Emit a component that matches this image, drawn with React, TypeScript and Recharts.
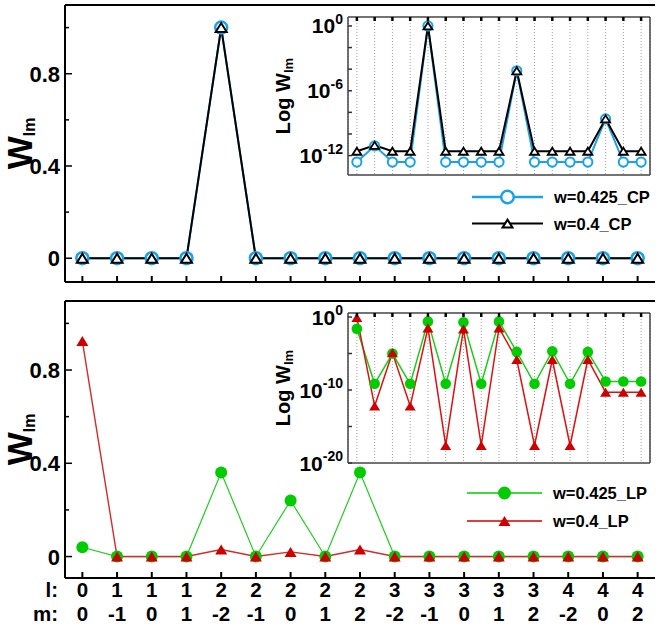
import React from "react";
import { LineChart, Line, XAxis, YAxis, CartesianGrid, Legend } from "recharts";

const FONT = "'Liberation Sans', Arial, Helvetica, sans-serif";

// quantum numbers shown under the bottom panel
const lLabels = ["0", "1", "1", "1", "2", "2", "2", "2", "2", "3", "3", "3", "3", "3", "4", "4", "4"];
const mLabels = ["0", "-1", "0", "1", "-2", "-1", "0", "1", "2", "-2", "-1", "0", "1", "2", "-2", "0", "2"];

// top panel (CP), linear W_lm
const cp425 = [0, 0, 0, 0, 1, 0, 0, 0, 0, 0, 0, 0, 0, 0, 0, 0, 0];
const cp04 = [0, 0, 0, 0, 1, 0, 0, 0, 0, 0, 0, 0, 0, 0, 0, 0, 0];
// top inset, log10 W_lm
const cp425Log = [-12.6, -11.1, -12.6, -12.6, 0, -12.6, -12.6, -12.6, -12.6, -4.15, -12.6, -12.6, -12.6, -12.6, -8.6, -12.6, -12.6];
const cp04Log = [-11.6, -11.05, -11.6, -11.6, 0, -11.6, -11.6, -11.6, -11.6, -4.15, -11.6, -11.6, -11.6, -11.6, -8.6, -11.6, -11.6];

// bottom panel (LP), linear W_lm
const lp425 = [0.04, 0, 0, 0, 0.36, 0, 0.24, 0, 0.36, 0, 0, 0, 0, 0, 0, 0, 0];
const lp04 = [0.924, 0, 0, 0, 0.03, 0, 0.02, 0, 0.03, 0, 0, 0, 0, 0, 0, 0, 0];
// bottom inset, log10 W_lm
const lp425Log = [-1.6, -9.15, -5.0, -9.15, -0.6, -9.15, -0.73, -9.15, -0.6, -4.78, -9.15, -4.69, -9.15, -4.78, -8.83, -8.83, -8.83];
const lp04Log = [-0.05, -12.2, -4.9, -12.2, -1.5, -17.6, -1.64, -17.6, -1.5, -5.82, -17.6, -5.82, -17.6, -5.82, -10.3, -10.3, -10.3];

// axis ticks
const mainTicks = [0, 0.2, 0.4, 0.6, 0.8, 1.0];
const mainTickLabels = [0, 0.4, 0.8];
const cpLogTicks = [0, -2, -4, -6, -8, -10, -12];
const cpLogLabels = [0, -6, -12];
const lpLogTicks = [0, -5, -10, -15, -20];
const lpLogLabels = [0, -10, -20];

const idx = lLabels.map((_, i) => i);
const cpData = idx.map((i) => ({ i, a: cp425[i], b: cp04[i] }));
const cpLogData = idx.map((i) => ({ i, a: cp425Log[i], b: cp04Log[i] }));
const lpData = idx.map((i) => ({ i, a: lp425[i], b: lp04[i] }));
const lpLogData = idx.map((i) => ({ i, a: lp425Log[i], b: lp04Log[i] }));

const BLUE = "#1aa2e8";
const GREEN = "#00cc00";
const RED = "#cc0000";

const triPts = (cx: number, cy: number, w: number, h: number) =>
  `${cx - w / 2},${cy + h / 2} ${cx + w / 2},${cy + h / 2} ${cx},${cy - h / 2}`;

const circleDot = (r: number, stroke: string, fill: string, sw: number) => (p: any) =>
  p.cx == null ? (
    <g key={`c${p.index}`} />
  ) : (
    <circle key={`c${p.index}`} cx={p.cx} cy={p.cy} r={r} stroke={stroke} strokeWidth={sw} fill={fill} />
  );

const triDot = (w: number, h: number, stroke: string, fill: string, sw: number) => (p: any) =>
  p.cx == null ? (
    <g key={`t${p.index}`} />
  ) : (
    <polygon key={`t${p.index}`} points={triPts(p.cx, p.cy, w, h)} stroke={stroke} strokeWidth={sw} fill={fill} />
  );

// ---- ticks ----
const MainYTick = (p: any) => {
  const v = p.payload.value;
  const major = mainTickLabels.includes(v);
  return (
    <g>
      <line x1={p.x} x2={p.x + (major ? 7 : 4)} y1={p.y} y2={p.y} stroke="#000" strokeWidth={1.5} />
      {major && (
        <text x={p.x - 5} y={p.y + 8} textAnchor="end" fontSize={22} fontWeight="bold" fontFamily={FONT} fill="#000">
          {v}
        </text>
      )}
    </g>
  );
};

const MainXTick = (p: any) => (
  <g>
    <line x1={p.x} x2={p.x} y1={p.y} y2={p.y - 6} stroke="#000" strokeWidth={2} />
    {p.withLabels && (
      <text textAnchor="middle" fontSize={20.5} fontWeight="bold" fontFamily={FONT} fill="#000">
        <tspan x={p.x} y={p.y + 19}>{lLabels[p.payload.value]}</tspan>
        <tspan x={p.x} y={p.y + 43}>{mLabels[p.payload.value]}</tspan>
      </text>
    )}
  </g>
);

const InsetTopTick = (p: any) => (
  <line x1={p.x} x2={p.x} y1={p.y} y2={p.y + 4} stroke="#000" strokeWidth={2.5} />
);

const EmptyTick = () => <g />;

const logTick = (labels: number[]) => (p: any) => {
  const v = p.payload.value;
  return (
    <g>
      <line x1={p.x} x2={p.x + 4} y1={p.y} y2={p.y} stroke="#333" strokeWidth={1.5} />
      {labels.includes(v) && (
        <text x={p.x - 5} y={p.y + 7.5} textAnchor="end" fontSize={21} fontWeight="bold" fontFamily={FONT} fill="#000">
          10
          <tspan dy={-9.5} fontSize={14}>
            {v}
          </tspan>
        </text>
      )}
    </g>
  );
};

// ---- axis titles ----
const WTitle = (props: any) => {
  const vb = props.viewBox;
  const cx = vb.x + 32;
  const cy = vb.y + vb.height / 2;
  return (
    <text
      x={cx}
      y={cy}
      transform={`rotate(-90, ${cx}, ${cy})`}
      textAnchor="middle"
      fontSize={35}
      fontWeight="bold"
      fontFamily={FONT}
      fill="#000"
    >
      W
      <tspan fontSize={16} dy={3}>
        lm
      </tspan>
    </text>
  );
};

const LogTitle = (props: any) => {
  const vb = props.viewBox;
  const cx = vb.x + 30;
  const cy = vb.y + vb.height / 2;
  return (
    <text
      x={cx}
      y={cy}
      transform={`rotate(-90, ${cx}, ${cy})`}
      textAnchor="middle"
      fontSize={20}
      fontWeight="bold"
      fontFamily={FONT}
      fill="#000"
    >
      Log W
      <tspan fontSize={13} dy={3}>
        lm
      </tspan>
    </text>
  );
};

const LMTitle = (props: any) => {
  const vb = props.viewBox;
  return (
    <text textAnchor="end" fontSize={20.5} fontWeight="bold" fontFamily={FONT} fill="#000">
      <tspan x={vb.x - 7} y={vb.y + 19}>l:</tspan>
      <tspan x={vb.x - 7} y={vb.y + 43}>m:</tspan>
    </text>
  );
};

// ---- legend ----
type LegendItem = { name: string; color: string; lineWidth: number; marker: "circle" | "tri"; filled: boolean };

const cpLegend: LegendItem[] = [
  { name: "w=0.425_CP", color: BLUE, lineWidth: 2.5, marker: "circle", filled: false },
  { name: "w=0.4_CP", color: "#000", lineWidth: 2, marker: "tri", filled: false },
];
const lpLegend: LegendItem[] = [
  { name: "w=0.425_LP", color: GREEN, lineWidth: 1.5, marker: "circle", filled: true },
  { name: "w=0.4_LP", color: RED, lineWidth: 1.5, marker: "tri", filled: true },
];

const LegendBox = ({ items, rowGap, lineLen }: { items: LegendItem[]; rowGap: number; lineLen: number }) => (
  <svg width={190} height={60} style={{ display: "block" }}>
    {items.map((it, k) => {
      const cy = 14 + k * rowGap;
      const mx = 7 + lineLen / 2;
      return (
        <g key={it.name}>
          <line x1={7} x2={7 + lineLen} y1={cy} y2={cy} stroke={it.color} strokeWidth={it.lineWidth} />
          {it.marker === "circle" ? (
            <circle cx={mx} cy={cy} r={it.filled ? 6.5 : 6.3} fill={it.filled ? it.color : "#fff"} stroke={it.color} strokeWidth={it.filled ? 0 : 2.5} />
          ) : (
            <polygon
              points={triPts(mx, cy, it.filled ? 12 : 10, it.filled ? 10 : 8)}
              fill={it.filled ? it.color : "#fff"}
              stroke={it.color}
              strokeWidth={it.filled ? 0 : 2}
            />
          )}
          <text x={lineLen + 18} y={cy + 6} fontSize={16.5} fontWeight="bold" fontFamily={FONT} fill="#000">
            {it.name}
          </text>
        </g>
      );
    })}
  </svg>
);

export default function App() {
  return (
    <div style={{ position: "absolute", left: 0, top: 0, width: 656, height: 632, background: "#fff" }}>
      {/* top panel */}
      <div style={{ position: "absolute", left: 0, top: 0 }}>
        <LineChart width={656} height={290} data={cpData} margin={{ top: 4, right: 1, bottom: 0, left: 0 }}>
          <XAxis
            dataKey="i"
            type="number"
            domain={[-0.5, 16.5]}
            ticks={idx}
            interval={0}
            height={8}
            tickSize={0}
            tickMargin={0}
            tickLine={false}
            axisLine={{ stroke: "#000", strokeWidth: 2 }}
            tick={<MainXTick withLabels={false} />}
          />
          <XAxis xAxisId="t" orientation="top" dataKey="i" type="number" domain={[-0.5, 16.5]} height={1} tick={false} tickLine={false} axisLine={{ stroke: "#000", strokeWidth: 2 }} />
          <YAxis
            type="number"
            domain={[-0.103, 1.098]}
            ticks={mainTicks}
            interval={0}
            width={65}
            tickSize={0}
            tickMargin={0}
            tickLine={false}
            axisLine={{ stroke: "#000", strokeWidth: 2 }}
            tick={<MainYTick />}
            label={{ content: WTitle }}
          />
          <Line dataKey="a" stroke={BLUE} strokeWidth={2} dot={circleDot(6, BLUE, "#fff", 2.5)} activeDot={false} isAnimationActive={false} />
          <Line dataKey="b" stroke="#000" strokeWidth={2} dot={triDot(11, 9, "#000", "#fff", 2)} activeDot={false} isAnimationActive={false} />
          <Legend
            verticalAlign="middle"
            layout="horizontal"
            content={() => <LegendBox items={cpLegend} rowGap={26.6} lineLen={71} />}
            wrapperStyle={{ left: 465, top: 183, width: 190, height: 60 }}
          />
        </LineChart>
      </div>

      {/* bottom panel */}
      <div style={{ position: "absolute", left: 0, top: 290 }}>
        <LineChart width={656} height={342} data={lpData} margin={{ top: 10, right: 1, bottom: 0, left: 0 }}>
          <XAxis
            dataKey="i"
            type="number"
            domain={[-0.5, 16.5]}
            ticks={idx}
            interval={0}
            height={54}
            tickSize={0}
            tickMargin={0}
            tickLine={false}
            axisLine={{ stroke: "#000", strokeWidth: 2 }}
            tick={<MainXTick withLabels={true} />}
            label={{ content: LMTitle }}
          />
          <XAxis xAxisId="t" orientation="top" dataKey="i" type="number" domain={[-0.5, 16.5]} height={1} tick={false} tickLine={false} axisLine={{ stroke: "#000", strokeWidth: 2 }} />
          <YAxis
            type="number"
            domain={[-0.092, 1.096]}
            ticks={mainTicks}
            interval={0}
            width={65}
            tickSize={0}
            tickMargin={0}
            tickLine={false}
            axisLine={{ stroke: "#000", strokeWidth: 2 }}
            tick={<MainYTick />}
            label={{ content: WTitle }}
          />
          <Line dataKey="a" stroke="#22cc22" strokeWidth={1.2} dot={circleDot(6, GREEN, GREEN, 0)} activeDot={false} isAnimationActive={false} />
          <Line dataKey="b" stroke="#d42a2a" strokeWidth={1.4} dot={triDot(12, 10, RED, RED, 0)} activeDot={false} isAnimationActive={false} />
          <Legend
            verticalAlign="middle"
            layout="horizontal"
            content={() => <LegendBox items={lpLegend} rowGap={28} lineLen={75} />}
            wrapperStyle={{ left: 460, top: 189, width: 190, height: 60 }}
          />
        </LineChart>
      </div>

      {/* top inset (log) */}
      <div style={{ position: "absolute", left: 260, top: 0 }}>
        <LineChart width={396} height={190} data={cpLogData} margin={{ top: 16, right: 5, bottom: 0, left: 0 }}>
          <CartesianGrid horizontal={false} stroke="#a0a0a0" strokeDasharray="1 2" fill="#fff" fillOpacity={1} />
          <XAxis dataKey="i" type="number" domain={[-0.5, 16.5]} ticks={idx} interval={0} height={15} tickLine={false} tick={<EmptyTick />} axisLine={{ stroke: "#444", strokeWidth: 1.5 }} />
          <XAxis
            xAxisId="t"
            orientation="top"
            dataKey="i"
            type="number"
            domain={[-0.5, 16.5]}
            ticks={idx}
            interval={0}
            height={1}
            tickSize={0}
            tickMargin={0}
            tickLine={false}
            tick={<InsetTopTick />}
            axisLine={{ stroke: "#444", strokeWidth: 1.5 }}
          />
          <YAxis
            type="number"
            domain={[-13.8, 0.83]}
            ticks={cpLogTicks}
            interval={0}
            width={88}
            tickSize={0}
            tickMargin={0}
            tickLine={false}
            axisLine={{ stroke: "#444", strokeWidth: 1.5 }}
            tick={logTick(cpLogLabels)}
            label={{ content: LogTitle }}
          />
          <YAxis yAxisId="r" orientation="right" type="number" domain={[-13.8, 0.83]} width={1} tick={false} tickLine={false} axisLine={{ stroke: "#444", strokeWidth: 1.5 }} />
          <Line dataKey="a" stroke={BLUE} strokeWidth={2} dot={circleDot(4.6, BLUE, "#fff", 2)} activeDot={false} isAnimationActive={false} />
          <Line dataKey="b" stroke="#000" strokeWidth={2} dot={triDot(9, 7, "#000", "#fff", 1.8)} activeDot={false} isAnimationActive={false} />
        </LineChart>
      </div>

      {/* bottom inset (log) */}
      <div style={{ position: "absolute", left: 260, top: 295 }}>
        <LineChart width={396} height={180} data={lpLogData} margin={{ top: 17, right: 5, bottom: 0, left: 0 }}>
          <CartesianGrid horizontal={false} stroke="#a0a0a0" strokeDasharray="1 2" fill="#fff" fillOpacity={1} />
          <XAxis dataKey="i" type="number" domain={[-0.5, 16.5]} ticks={idx} interval={0} height={12} tickLine={false} tick={<EmptyTick />} axisLine={{ stroke: "#444", strokeWidth: 1.5 }} />
          <XAxis
            xAxisId="t"
            orientation="top"
            dataKey="i"
            type="number"
            domain={[-0.5, 16.5]}
            ticks={idx}
            interval={0}
            height={1}
            tickSize={0}
            tickMargin={0}
            tickLine={false}
            tick={<InsetTopTick />}
            axisLine={{ stroke: "#444", strokeWidth: 1.5 }}
          />
          <YAxis
            type="number"
            domain={[-20, 0.55]}
            ticks={lpLogTicks}
            interval={0}
            width={88}
            tickSize={0}
            tickMargin={0}
            tickLine={false}
            axisLine={{ stroke: "#444", strokeWidth: 1.5 }}
            tick={logTick(lpLogLabels)}
            label={{ content: LogTitle }}
          />
          <YAxis yAxisId="r" orientation="right" type="number" domain={[-20, 0.55]} width={1} tick={false} tickLine={false} axisLine={{ stroke: "#444", strokeWidth: 1.5 }} />
          <Line dataKey="a" stroke="#1ccc1c" strokeWidth={1.5} dot={circleDot(5.3, GREEN, GREEN, 0)} activeDot={false} isAnimationActive={false} />
          <Line dataKey="b" stroke="#dd1111" strokeWidth={1.5} dot={triDot(11, 9, RED, RED, 0)} activeDot={false} isAnimationActive={false} />
        </LineChart>
      </div>
    </div>
  );
}
